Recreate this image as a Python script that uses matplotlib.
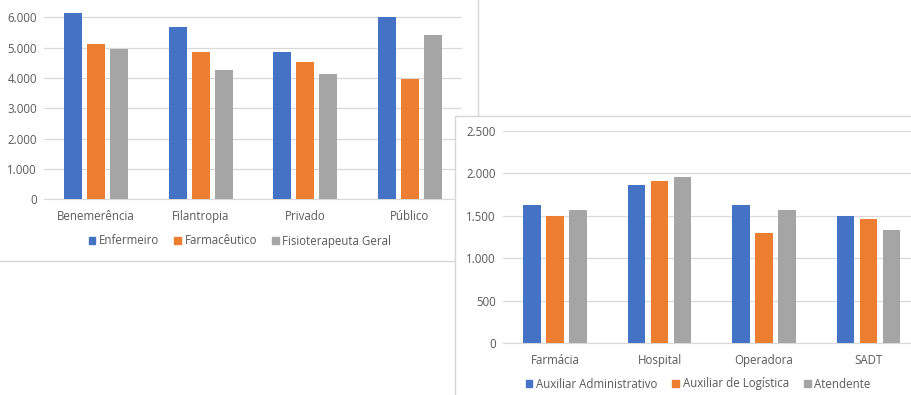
import matplotlib.pyplot as plt
import numpy as np
from matplotlib.patches import Rectangle, Patch

# left chart data
left_cats = ['Benemerência', 'Filantropia', 'Privado', 'Público']
enfermeiro = [6150, 5690, 4850, 6020]
farmaceutico = [5130, 4850, 4540, 3980]
fisioterapeuta = [4970, 4270, 4140, 5430]
left_series = ['Enfermeiro', 'Farmacêutico', 'Fisioterapeuta Geral']
left_ticks = [0, 1000, 2000, 3000, 4000, 5000, 6000]

# right chart data
right_cats = ['Farmácia', 'Hospital', 'Operadora', 'SADT']
aux_admin = [1630, 1855, 1630, 1500]
aux_logistica = [1490, 1905, 1290, 1455]
atendente = [1570, 1950, 1570, 1325]
right_series = ['Auxiliar Administrativo', 'Auxiliar de Logística', 'Atendente']
right_ticks = [0, 500, 1000, 1500, 2000, 2500]

colors = ['#4472C4', '#ED7D31', '#A5A5A5']
txt = '#595959'
grid = '#D9D9D9'
plt.rcParams['font.family'] = ['Open Sans', 'DejaVu Sans']

W, H = 911, 395
fig = plt.figure(figsize=(W / 100, H / 100), dpi=100)


def fx(px):
    return px / W


def fy(py):
    return 1 - py / H


def fmt(v):
    return f'{v:,}'.replace(',', '.')


def draw(ax, cats, series, ticks):
    x = np.arange(len(cats))
    bw = 0.17
    step = 0.22
    for i, vals in enumerate(series):
        ax.bar(x + (i - 1) * step, vals, bw, color=colors[i], zorder=3)
    ax.set_xticks(x)
    ax.set_xticklabels(cats, fontsize=8.3, color=txt)
    ax.set_yticks(ticks)
    ax.set_yticklabels([fmt(t) for t in ticks], fontsize=8.3, color=txt)
    ax.set_xlim(-0.5, len(cats) - 0.5)
    ax.tick_params(length=0, pad=5)
    ax.tick_params(axis='x', pad=8)
    ax.grid(axis='y', color=grid, linewidth=0.9, zorder=0)
    for s in ['top', 'right', 'left']:
        ax.spines[s].set_visible(False)
    ax.spines['bottom'].set_color(grid)
    ax.set_facecolor('none')


def legend(names, cx, cy, z):
    leg = fig.legend([Patch(color=c) for c in colors], names, loc='center',
                     bbox_to_anchor=(fx(cx), fy(cy)), ncol=3, frameon=False,
                     fontsize=8.3, handlelength=0.6, handleheight=0.6,
                     handletextpad=0.3, columnspacing=1.3, labelcolor=txt)
    leg.set_zorder(z)


# left chart box
fig.add_artist(Rectangle((fx(-2), fy(261)), fx(480), fy(-5) - fy(261),
                         transform=fig.transFigure, facecolor='white',
                         edgecolor='#D6D6D6', linewidth=1, zorder=0.2))

ax1 = fig.add_axes([fx(44), fy(199.3), fx(462 - 44), fy(0) - fy(199.3)])
ax1.set_zorder(1)
draw(ax1, left_cats, [enfermeiro, farmaceutico, fisioterapeuta], left_ticks)
ax1.set_ylim(0, 199.3 / 30.33 * 1000)
legend(left_series, 240, 241, 1.5)

# right chart box
fig.add_artist(Rectangle((fx(455), fy(400)), fx(470), fy(116) - fy(400),
                         transform=fig.transFigure, facecolor='white',
                         edgecolor='#D6D6D6', linewidth=1, zorder=2))

ax2 = fig.add_axes([fx(502.75), fy(343), fx(418), fy(130.7) - fy(343)])
ax2.set_zorder(3)
draw(ax2, right_cats, [aux_admin, aux_logistica, atendente], right_ticks)
ax2.set_ylim(0, 2500)
legend(right_series, 698, 384, 4)

fig.savefig('out.png', dpi=100)
